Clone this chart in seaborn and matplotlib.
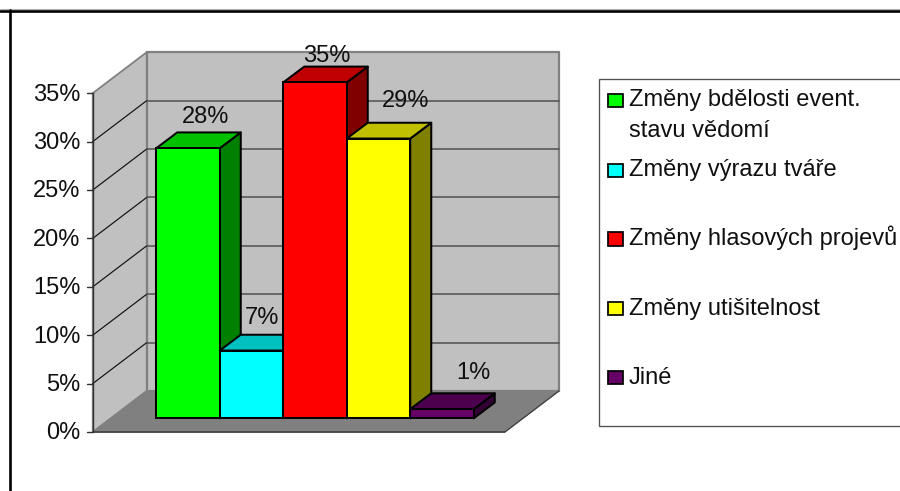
import matplotlib
matplotlib.use("Agg")
import matplotlib.pyplot as plt
from matplotlib.patches import Polygon, Rectangle
from matplotlib.transforms import Affine2D
import pandas as pd
import seaborn as sns

# Survey shares, in percent
categories = ["Změny bdělosti event.\nstavu vědomí", "Změny výrazu tváře",
              "Změny hlasových projevů", "Změny utišitelnost", "Jiné"]
values = [27.9, 7.0, 34.7, 28.9, 0.95]
value_labels = ["28%", "7%", "35%", "29%", "1%"]
front_colors = ["#00ff00", "#00ffff", "#ff0000", "#ffff00", "#660066"]
top_colors = ["#00c000", "#00c0c0", "#c00000", "#c0c000", "#4d004d"]
side_colors = ["#008000", "#008080", "#800000", "#808000", "#330033"]
axis_ticks = [0, 5, 10, 15, 20, 25, 30, 35]
axis_tick_labels = ["0%", "5%", "10%", "15%", "20%", "25%", "30%", "35%"]

# Scale of the drawing: pixels per category and per percentage point
W, H = 900, 491
PX_CAT, PX_PCT = 63.5, 9.68
X_ZERO_PX, Y_ZERO_PX = 188.0, 418.3

# Oblique projection used for the box and the bars
BOX_LEFT, BOX_RIGHT = -1.5, 4.99
BOX_BASE = -1.415
BOX_DX, BOX_DY = 54 / PX_CAT, 41 / PX_PCT
BAR_DX, BAR_DY = 21 / PX_CAT, 15.8 / PX_PCT

# Label nudges relative to the front top of each bar (categories, percent)
label_dx = [0.28, 0.16, 0.19, 0.43, 0.49]
label_dy = [3.5, 3.65, 3.0, 4.15, 3.95]
legend_swatch_y = [93.5, 163.5, 232.2, 302, 371]
legend_baselines = [[106, 136.7], [176], [245], [315], [384]]

sns.set_theme(style="white")
plt.rcParams["font.family"] = ["Liberation Sans", "DejaVu Sans"]
TEXT = 17.0
EDGE = 1.45

fig = plt.figure(figsize=(W / 100, H / 100), dpi=100, facecolor="white")
ax = fig.add_axes([0, 0, 1, 1])
df = pd.DataFrame({"category": categories, "value": values})
sns.barplot(data=df, x="category", y="value", hue="category", order=categories,
            hue_order=categories, palette=front_colors, dodge=False, width=1.0,
            saturation=1, edgecolor="black", linewidth=EDGE, legend=False, ax=ax)
ax.set_xlim(-X_ZERO_PX / PX_CAT, (W - X_ZERO_PX) / PX_CAT)
ax.set_ylim((Y_ZERO_PX - H) / PX_PCT, Y_ZERO_PX / PX_PCT)
ax.axis("off")

top = max(axis_ticks)
b0, lft, rgt = BOX_BASE, BOX_LEFT, BOX_RIGHT
dx, dy = BOX_DX, BOX_DY


def poly(points, **kw):
    ax.add_patch(Polygon(points, closed=True, **kw))


# Back wall, side wall and floor of the box
poly([(lft + dx, b0 + dy), (rgt + dx, b0 + dy), (rgt + dx, b0 + dy + top), (lft + dx, b0 + dy + top)],
     facecolor="#c0c0c0", edgecolor="#808080", linewidth=1.6, zorder=1)
poly([(lft, b0), (lft + dx, b0 + dy), (lft + dx, b0 + dy + top), (lft, b0 + top)],
     facecolor="#c0c0c0", edgecolor="#808080", linewidth=1.3, zorder=1)
poly([(lft, b0), (rgt, b0), (rgt + dx, b0 + dy), (lft + dx, b0 + dy)],
     facecolor="#808080", edgecolor="#808080", linewidth=1.0, zorder=1.2)
ax.plot([lft, rgt], [b0, b0], color="#404040", lw=1.2, zorder=1.3, solid_capstyle="butt")
ax.plot([rgt, rgt + dx], [b0, b0 + dy], color="#404040", lw=0.9, zorder=1.3)

# Gridlines on both walls, axis line and tick labels
for tick, label in zip(axis_ticks, axis_tick_labels):
    if 0 < tick < top:
        ax.plot([lft, lft + dx], [b0 + tick, b0 + dy + tick], color="#101010", lw=0.85, zorder=1.4)
        ax.plot([lft + dx, rgt + dx], [b0 + dy + tick] * 2, color="#505050", lw=1.1, zorder=1.4)
    ax.plot([lft - 6 / PX_CAT, lft], [b0 + tick] * 2, color="#303030", lw=1.0, zorder=1.4)
    ax.text(lft - 12 / PX_CAT, b0 + tick + 0.12, label, ha="right", va="center_baseline",
            fontsize=TEXT, color="#101010", zorder=30)
ax.plot([lft, lft], [b0, b0 + top], color="#303030", lw=1.0, zorder=1.5)

# Depth faces of the bars; each next bar's front covers the previous side
for i, (bar, val) in enumerate(zip([c[0] for c in ax.containers], values)):
    x0, x1 = i - 0.5, i + 0.5
    bar.set_zorder(5 + 2 * i)
    style = dict(edgecolor="black", linewidth=EDGE, joinstyle="round", zorder=4 + 2 * i)
    poly([(x1, 0), (x1 + BAR_DX, BAR_DY), (x1 + BAR_DX, val + BAR_DY), (x1, val)],
         facecolor=side_colors[i], **style)
    poly([(x0, val), (x1, val), (x1 + BAR_DX, val + BAR_DY), (x0 + BAR_DX, val + BAR_DY)],
         facecolor=top_colors[i], **style)
    ax.text(i + label_dx[i], val + label_dy[i], value_labels[i], ha="center", va="center_baseline",
            fontsize=TEXT, color="#101010", zorder=30)

# Pixel-based overlay for the frame and the key
px = Affine2D().scale(1 / W, -1 / H).translate(0, 1) + fig.transFigure


def fig_line(xs, ys, **kw):
    fig.add_artist(plt.Line2D(xs, ys, transform=px, **kw))


fig_line([0, W], [9.2, 9.2], color="#b0b0b0", lw=0.8, zorder=40)
fig_line([0, W], [11, 11], color="black", lw=1.9, zorder=41)
fig_line([10, 10], [10, H], color="black", lw=1.9, zorder=41)

fig.add_artist(Rectangle((599, 79), 320, 347, transform=px, facecolor="white",
                         edgecolor="#505050", linewidth=0.95, zorder=40))
for i, name in enumerate(categories):
    fig.add_artist(Rectangle((607.5, legend_swatch_y[i]), 15.5, 13.5, transform=px,
                             facecolor=front_colors[i], edgecolor="black", linewidth=1.25, zorder=42))
    for line, baseline in zip(name.split("\n"), legend_baselines[i]):
        fig.text(629 / W, 1 - baseline / H, line, fontsize=TEXT, color="#101010",
                 ha="left", va="baseline", zorder=42)

fig.savefig("out.png", dpi=100)
